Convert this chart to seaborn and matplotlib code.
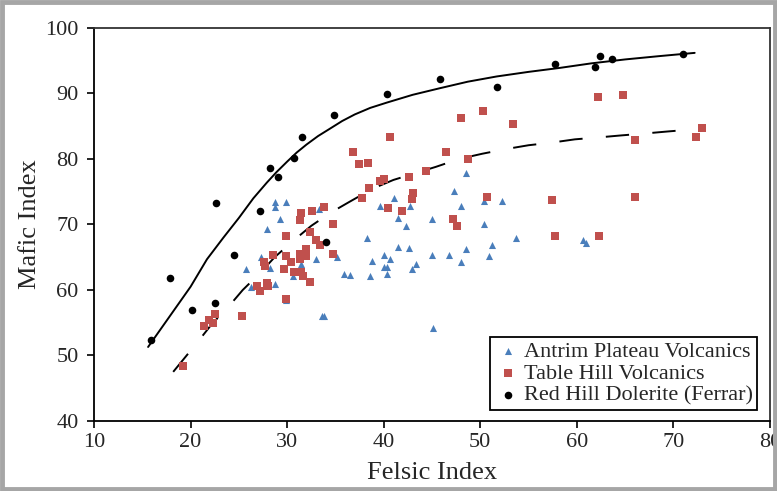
import matplotlib
matplotlib.use("Agg")
import matplotlib.pyplot as plt
import matplotlib.patches as mpatches
import numpy as np
import pandas as pd
import seaborn as sns

# Antrim Plateau Volcanics
antrim_felsic = [25.7, 26.3, 27.3, 27.9, 28.2, 28.7, 28.7, 28.7, 29.3, 29.9, 29.9, 30.6,
                 31.4, 33.0, 33.3, 33.6, 33.8, 35.2, 35.9, 36.5, 38.3, 38.6, 38.8, 39.6,
                 40.0, 40.0, 40.3, 40.3, 40.7, 41.1, 41.5, 41.5, 42.3, 42.6, 42.7, 42.9,
                 43.3, 45.0, 45.0, 45.1, 46.8, 47.3, 48.0, 48.0, 48.5, 48.5, 50.4, 50.4,
                 50.9, 51.2, 52.2, 53.7, 60.6, 60.9]
antrim_mafic = [63.2, 60.4, 65.1, 69.3, 63.3, 73.5, 72.7, 60.9, 70.8, 73.5, 58.4, 62.1,
                64.0, 64.8, 72.3, 56.1, 56.1, 65.1, 62.4, 62.3, 68.0, 62.2, 64.5, 72.8,
                65.4, 63.5, 63.5, 62.5, 64.7, 74.0, 71.0, 66.5, 69.8, 66.4, 72.8, 63.2,
                64.0, 70.9, 65.3, 54.2, 65.4, 75.1, 72.8, 64.3, 77.9, 66.3, 73.6, 70.0,
                65.2, 66.9, 73.6, 68.0, 67.6, 67.2]

# Table Hill Volcanics
table_felsic = [19.2, 21.4, 21.9, 22.3, 22.5, 25.3, 26.9, 27.2, 27.9, 28.0, 27.6, 27.7,
                28.5, 29.7, 29.9, 29.9, 29.9, 30.4, 30.7, 31.3, 31.4, 31.3, 31.3, 31.4,
                31.6, 32.0, 32.0, 32.4, 32.4, 32.6, 33.0, 33.4, 33.8, 34.7, 34.7, 36.8,
                37.4, 37.8, 38.4, 38.5, 39.6, 40.0, 40.4, 40.6, 41.9, 42.6, 42.9, 43.0,
                44.4, 46.4, 47.2, 47.6, 48.0, 48.7, 50.3, 50.7, 53.4, 57.4, 57.7, 62.2,
                64.8, 66.0, 66.0, 72.3, 73.0, 62.3]
table_mafic = [48.4, 54.5, 55.4, 55.0, 56.3, 56.1, 60.6, 59.9, 61.1, 60.6, 64.3, 63.7,
               65.3, 63.2, 58.6, 65.2, 68.2, 64.2, 62.8, 70.7, 71.7, 65.5, 64.8, 62.8,
               62.2, 65.2, 66.3, 61.2, 68.8, 72.0, 67.7, 66.9, 72.6, 70.1, 65.5, 81.0,
               79.3, 74.1, 79.4, 75.6, 76.6, 76.9, 72.5, 83.4, 72.0, 77.3, 73.9, 74.8,
               78.2, 81.0, 70.8, 69.8, 86.3, 80.0, 87.3, 74.2, 85.4, 73.7, 68.3, 89.5,
               89.7, 82.9, 74.2, 83.4, 84.7, 68.3]

# Red Hill Dolerite (Ferrar)
redhill_felsic = [15.9, 17.9, 20.1, 22.5, 22.6, 24.5, 27.2, 28.2, 29.0, 30.7, 31.5, 34.0,
                  34.9, 40.3, 45.8, 51.7, 57.7, 61.9, 62.4, 63.6, 71.0]
redhill_mafic = [52.3, 61.8, 56.9, 58.0, 73.3, 65.3, 72.1, 78.7, 77.2, 80.1, 83.4, 67.3,
                 86.7, 89.9, 92.2, 91.0, 94.5, 94.1, 95.7, 95.3, 96.1]

# Trend curves (knots)
redhill_trend_x = [15.6, 20.0, 21.7, 23.4, 25.0, 26.5, 27.9, 28.9, 30.0, 31.0, 32.0, 33.2,
                   34.4, 35.7, 37.0, 38.6, 40.3, 43.0, 45.8, 48.7, 51.7, 55.0, 58.2, 61.5,
                   65.0, 68.5, 72.2]
redhill_trend_y = [51.3, 60.5, 64.7, 68.0, 71.0, 74.0, 76.4, 78.0, 79.6, 81.0, 82.2, 83.5,
                   84.6, 85.8, 86.8, 87.8, 88.6, 89.8, 90.8, 91.8, 92.6, 93.3, 93.9, 94.6,
                   95.2, 95.7, 96.2]
table_trend_x = [18.2, 20.7, 22.2, 23.9, 25.4, 27.2, 28.7, 30.7, 32.5, 34.5, 36.5, 38.9,
                 41.0, 43.2, 45.4, 47.8, 50.2, 52.6, 55.0, 57.4, 59.8, 62.3, 64.6, 67.1,
                 69.4, 72.7]
table_trend_y = [47.5, 52.0, 54.8, 57.4, 60.0, 62.6, 65.0, 67.6, 69.8, 71.8, 73.5, 75.5,
                 76.8, 77.8, 78.8, 80.0, 80.8, 81.5, 82.1, 82.5, 83.0, 83.3, 83.6, 83.9,
                 84.2, 84.6]

x_ticks = [10, 20, 30, 40, 50, 60, 70, 80]
y_ticks = [40, 50, 60, 70, 80, 90, 100]

sns.set_theme(style="white")
plt.rcParams["font.family"] = ["Liberation Serif", "DejaVu Serif"]

fig = plt.figure(figsize=(7.77, 4.91), dpi=100)
ax = fig.add_axes([0.121, 0.1426, 0.870, 0.8004])

# grey outer frame of the figure
fig.patches.append(mpatches.Rectangle((0.002, 0.004), 0.996, 0.992, transform=fig.transFigure,
                                      fill=False, edgecolor="#a6a6a6", linewidth=3.5))

sns.lineplot(x=redhill_trend_x, y=redhill_trend_y, sort=False, estimator=None,
             color="black", linewidth=1.4, ax=ax, zorder=2)
sns.lineplot(x=table_trend_x, y=table_trend_y, sort=False, estimator=None,
             color="black", linewidth=1.4, ax=ax, zorder=2)
ax.lines[-1].set_dashes((12, 12))

sns.scatterplot(x=antrim_felsic, y=antrim_mafic, marker="^", s=26, color="#4a7ebb",
                linewidth=0, ax=ax, zorder=3, label="Antrim Plateau Volcanics")
sns.scatterplot(x=table_felsic, y=table_mafic, marker="s", s=32, color="#c0504d",
                linewidth=0, ax=ax, zorder=3, label="Table Hill Volcanics")
sns.scatterplot(x=redhill_felsic, y=redhill_mafic, marker="o", s=30, color="black",
                linewidth=0, ax=ax, zorder=4, label="Red Hill Dolerite (Ferrar)")

ax.set_xlim(10, 80)
ax.set_ylim(40, 100)
ax.set_xticks(x_ticks)
ax.set_yticks(y_ticks)
ax.tick_params(axis="both", direction="out", length=5, width=1.2, color="black",
               labelsize=16, bottom=True, left=True)
ax.tick_params(axis="y", pad=6)
ax.tick_params(axis="x", pad=4)
ax.set_xlabel("Felsic Index", fontsize=19, labelpad=7)
ax.set_ylabel("Mafic Index", fontsize=19, labelpad=3)

for side in ["left", "bottom"]:
    ax.spines[side].set_color("black")
    ax.spines[side].set_linewidth(1.3)
for side in ["top", "right"]:
    ax.spines[side].set_color("#333333")
    ax.spines[side].set_linewidth(1.3)

leg = ax.legend(loc="lower right", bbox_to_anchor=(0.981, 0.028), fontsize=16,
                frameon=True, fancybox=False, edgecolor="black", framealpha=1,
                handletextpad=0.1, handlelength=1.2, borderpad=0.2, labelspacing=0.05,
                borderaxespad=0)
leg.get_frame().set_linewidth(1.3)

fig.savefig("out.png", dpi=100)
